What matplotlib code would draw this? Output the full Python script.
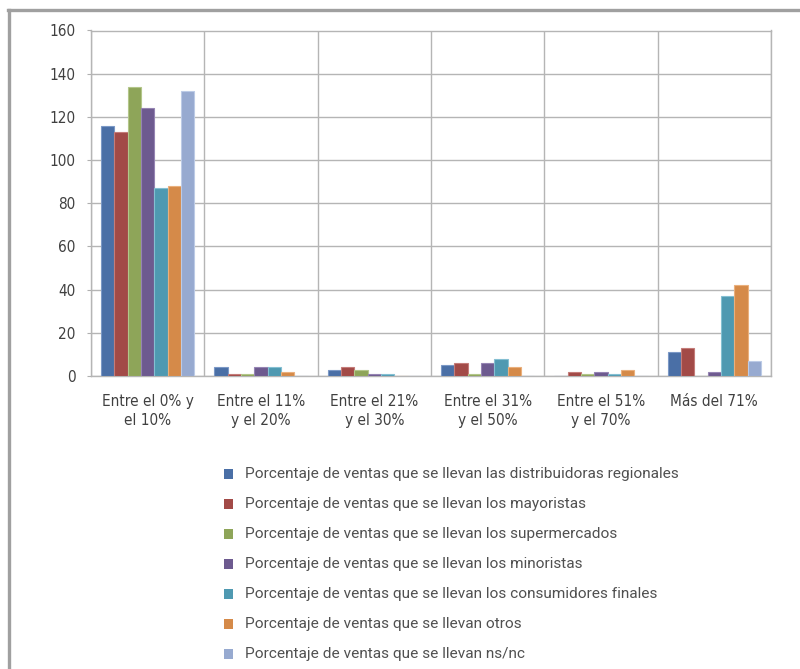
import matplotlib
matplotlib.use("Agg")
import matplotlib.pyplot as plt
from matplotlib.patches import Rectangle
from matplotlib.lines import Line2D
from matplotlib import font_manager as fm
import numpy as np

categories = ["Entre el 0% y\nel 10%", "Entre el 11%\ny el 20%", "Entre el 21%\ny el 30%",
              "Entre el 31%\ny el 50%", "Entre el 51%\ny el 70%", "Más del 71%"]
series_names = [
    "Porcentaje de ventas que se llevan las distribuidoras regionales",
    "Porcentaje de ventas que se llevan los mayoristas",
    "Porcentaje de ventas que se llevan los supermercados",
    "Porcentaje de ventas que se llevan los minoristas",
    "Porcentaje de ventas que se llevan los consumidores finales",
    "Porcentaje de ventas que se llevan otros",
    "Porcentaje de ventas que se llevan ns/nc",
]
distribuidoras = [116, 4, 3, 5, 0, 11]
mayoristas = [113, 1, 4, 6, 2, 13]
supermercados = [134, 1, 3, 1, 1, 0]
minoristas = [124, 4, 1, 6, 2, 2]
consumidores = [87, 4, 1, 8, 1, 37]
otros = [88, 2, 0, 4, 3, 42]
nsnc = [132, 0, 0, 0, 0, 7]
values = [distribuidoras, mayoristas, supermercados, minoristas, consumidores, otros, nsnc]
colors = ["#4a6fa6", "#a24a47", "#8ea559", "#6d5a8f", "#4f99b1", "#d58a49", "#97aad0"]
edges = ["#7b98c6", "#c47c79", "#b3c68a", "#9584b3", "#84bfd2", "#eab07d", "#bccbe6"]
yticks = [0, 20, 40, 60, 80, 100, 120, 140, 160]

W, H = 800, 669
fig = plt.figure(figsize=(W / 100, H / 100), dpi=100)
fig.patch.set_facecolor("white")

cond = fm.FontProperties(family="DejaVu Sans", stretch="condensed", size=11)
ycond = fm.FontProperties(family="DejaVu Sans", stretch="condensed", size=11)
tcol = "#404040"

ax = fig.add_axes([91 / W, 1 - 376 / H, 680 / W, 345.5 / H])
n = len(categories)
x = np.arange(n)
bw = 0.1175
for i, (vals, c, ec) in enumerate(zip(values, colors, edges)):
    ax.bar(x - 3 * bw + i * bw, vals, width=bw, color=c, edgecolor=ec, linewidth=0.8, zorder=3)

ax.set_xlim(-0.5, n - 0.5)
ax.set_ylim(0, 160)
ax.set_yticks(yticks)
ax.set_yticklabels([str(v) for v in yticks], fontproperties=ycond, color=tcol)
ax.set_xticks(x)
ax.set_xticklabels(categories, fontproperties=cond, color=tcol, linespacing=1.35)
ax.set_xticks(np.arange(n + 1) - 0.5, minor=True)
ax.tick_params(axis="x", which="major", length=0, pad=13)
ax.tick_params(axis="x", which="minor", length=0)
ax.tick_params(axis="y", which="major", length=3, color="#b0b0b0", pad=8)
ax.grid(True, axis="y", which="major", color="#b5b5b5", linewidth=1.0, zorder=0)
ax.grid(True, axis="x", which="minor", color="#b5b5b5", linewidth=1.0, zorder=0)
for s in ax.spines.values():
    s.set_color("#b5b5b5")
    s.set_linewidth(1.0)

# legend
lx, ty, dy = 224, 474, 30
for i, (name, c) in enumerate(zip(series_names, colors)):
    yc = ty + i * dy
    fig.patches.append(Rectangle((lx / W, 1 - (yc + 5) / H), 9 / W, 10 / H,
                                 transform=fig.transFigure, facecolor=c, edgecolor="none"))
    fig.text(245 / W, 1 - yc / H, name, fontsize=11.05, color="#505050",
             family=["Roboto", "DejaVu Sans"], va="center", ha="left")

# outer border
fig.lines.append(Line2D([8 / W, 1.0], [1 - 10 / H, 1 - 10 / H], transform=fig.transFigure,
                        color="#a0a0a0", linewidth=2.4))
fig.lines.append(Line2D([9 / W, 9 / W], [1 - 10 / H, 0], transform=fig.transFigure,
                        color="#a0a0a0", linewidth=2.4))

fig.savefig("out.png", dpi=100)
